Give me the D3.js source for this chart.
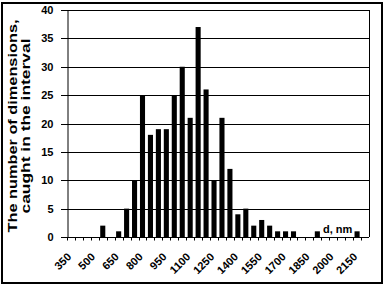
<!DOCTYPE html>
<html>
<head>
<meta charset="utf-8">
<script src="https://cdn.jsdelivr.net/npm/d3@7"></script>
<style>
  body { margin: 0; background: #fff; }
  text { font-family: "Liberation Sans", Arial, sans-serif; }
</style>
</head>
<body>
<svg id="vis"></svg>
<script>
const svg = d3.select("#vis").attr("width", 386).attr("height", 287);

// size classes, nm (bin starts, step 50)
const sizes = d3.range(350, 2201, 50);
const counts = [0, 0, 0, 0, 2, 0, 1, 5, 10, 25, 18, 19, 19, 25, 30, 21, 37, 26, 10, 21, 12,
                4, 5, 2, 3, 2, 1, 1, 1, 0, 0, 1, 0, 0, 0, 0, 1, 0];
const xTickLabels = [350, 500, 650, 800, 950, 1100, 1250, 1400, 1550, 1700, 1850, 2000, 2150];
const yTicks = [0, 5, 10, 15, 20, 25, 30, 35, 40];
const yTitle = ["The number of dimensions,", "caught in the interval"];
const xUnit = "d, nm";

const plotLeft = 67, plotRight = 369, plotTop = 10, plotBottom = 237;

const xscale = d3.scaleBand()
    .domain(sizes)
    .range([plotLeft, plotRight])
    .paddingInner(0.36)
    .paddingOuter(0.18);

const yscale = d3.scaleLinear()
    .domain([0, 40])
    .range([plotBottom, plotTop]);

const data = sizes.map((s, i) => ({size: s, n: counts[i]}));

function main() {
    // outer frame
    svg.append("rect")
        .attr("x", 2).attr("y", 3)
        .attr("width", 380).attr("height", 280)
        .attr("fill", "none")
        .attr("stroke", "black")
        .attr("stroke-width", 2);

    drawGrid();
    drawBars();
    drawAxes();
    drawLabels();
}

function drawGrid() {
    svg.selectAll(".grid").data(yTicks).join("line")
        .attr("class", "grid")
        .attr("x1", plotLeft - 6)
        .attr("x2", plotRight)
        .attr("y1", d => Math.round(yscale(d)) + 0.5)
        .attr("y2", d => Math.round(yscale(d)) + 0.5)
        .attr("stroke", "black")
        .attr("stroke-width", 1);

    // right border of plot area
    svg.append("line")
        .attr("x1", plotRight + 0.5).attr("x2", plotRight + 0.5)
        .attr("y1", yscale(40)).attr("y2", yscale(0))
        .attr("stroke", "black");
}

function drawBars() {
    svg.selectAll(".bar").data(data).join("rect")
        .attr("class", "bar")
        .attr("x", d => xscale(d.size))
        .attr("width", xscale.bandwidth())
        .attr("y", d => yscale(d.n))
        .attr("height", d => yscale(0) - yscale(d.n))
        .attr("fill", "black");
}

function drawAxes() {
    // y axis
    const yAxis = svg.append("g")
        .attr("transform", `translate(${plotLeft + 0.5},0)`)
        .call(d3.axisLeft(yscale).tickValues(yTicks).tickSize(0).tickPadding(14));
    yAxis.select(".domain").attr("stroke", "black");
    yAxis.selectAll("text")
        .attr("font-size", 11)
        .attr("font-weight", "bold")
        .attr("fill", "black");

    // x axis with small ticks between size classes
    const step = xscale.step();
    const boundaries = sizes.map(s => xscale(s) - xscale.paddingInner() * step / 2);
    const xAxis = svg.append("g")
        .attr("transform", `translate(0,${plotBottom + 0.5})`);
    xAxis.append("line")
        .attr("x1", plotLeft).attr("x2", plotRight)
        .attr("stroke", "black");
    xAxis.selectAll(".tick").data(boundaries).join("line")
        .attr("class", "tick")
        .attr("x1", d => Math.round(d) + 0.5)
        .attr("x2", d => Math.round(d) + 0.5)
        .attr("y1", 0).attr("y2", 3)
        .attr("stroke", "black");

    xAxis.selectAll(".xlab").data(xTickLabels).join("text")
        .attr("class", "xlab")
        .attr("transform", d => `translate(${xscale(d) + xscale.bandwidth() / 2 + 1},20) rotate(-45)`)
        .attr("text-anchor", "end")
        .attr("font-size", 11)
        .attr("font-weight", "bold")
        .text(d => d);
}

function drawLabels() {
    const lengths = [213, 175];
    svg.append("text")
        .attr("transform", "translate(17,126) rotate(-90)")
        .attr("text-anchor", "middle")
        .attr("font-size", 13)
        .attr("font-weight", "bold")
        .selectAll("tspan").data(yTitle).join("tspan")
        .attr("x", 0)
        .attr("dy", (d, i) => i === 0 ? 0 : 13)
        .attr("textLength", (d, i) => lengths[i])
        .attr("lengthAdjust", "spacingAndGlyphs")
        .text(d => d);

    svg.append("text")
        .attr("x", 323)
        .attr("y", 233)
        .attr("font-size", 11)
        .attr("font-weight", "bold")
        .text(xUnit);
}

main();
</script>
</body>
</html>
